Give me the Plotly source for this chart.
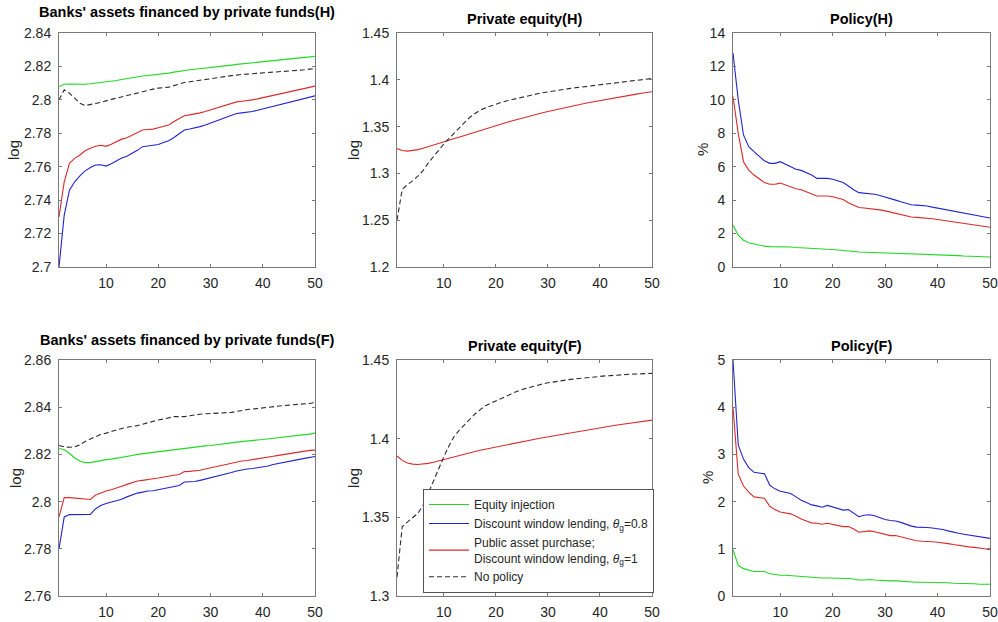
import plotly.graph_objects as go

# Horizon (quarters)
periods = list(range(1, 51))

# ---- Banks' assets financed by private funds, home (H) ----
bank_h_equity = [2.8080, 2.8093, 2.8095, 2.8094, 2.8092, 2.8093, 2.8096, 2.8100, 2.8103, 2.8105,
                 2.8110, 2.8116, 2.8122, 2.8128, 2.8133, 2.8138, 2.8143, 2.8146, 2.8149, 2.8152,
                 2.8156, 2.8160, 2.8166, 2.8172, 2.8177, 2.8180, 2.8183, 2.8186, 2.8189, 2.8192,
                 2.8196, 2.8200, 2.8204, 2.8208, 2.8212, 2.8215, 2.8218, 2.8220, 2.8223, 2.8226,
                 2.8229, 2.8232, 2.8236, 2.8240, 2.8243, 2.8246, 2.8250, 2.8253, 2.8257, 2.8261]
bank_h_dwl08 = [2.7000, 2.7310, 2.7460, 2.7510, 2.7545, 2.7575, 2.7595, 2.7610, 2.7612, 2.7604,
                2.7618, 2.7635, 2.7652, 2.7662, 2.7678, 2.7698, 2.7720, 2.7723, 2.7726, 2.7733,
                2.7745, 2.7755, 2.7775, 2.7800, 2.7820, 2.7826, 2.7832, 2.7840, 2.7850, 2.7860,
                2.7872, 2.7884, 2.7896, 2.7908, 2.7918, 2.7922, 2.7925, 2.7930, 2.7938, 2.7946,
                2.7954, 2.7962, 2.7970, 2.7978, 2.7986, 2.7994, 2.8000, 2.8008, 2.8016, 2.8024]
bank_h_dwl1 = [2.7300, 2.7510, 2.7620, 2.7650, 2.7670, 2.7695, 2.7710, 2.7723, 2.7728, 2.7722,
               2.7735, 2.7750, 2.7765, 2.7773, 2.7790, 2.7805, 2.7820, 2.7823, 2.7825, 2.7833,
               2.7843, 2.7850, 2.7870, 2.7890, 2.7905, 2.7910, 2.7915, 2.7922, 2.7930, 2.7940,
               2.7950, 2.7960, 2.7970, 2.7980, 2.7988, 2.7992, 2.7995, 2.8000, 2.8006, 2.8013,
               2.8020, 2.8027, 2.8034, 2.8040, 2.8047, 2.8053, 2.8060, 2.8066, 2.8073, 2.8082]
bank_h_none = [2.8000, 2.8060, 2.8040, 2.8010, 2.7980, 2.7966, 2.7970, 2.7978, 2.7985, 2.7995,
               2.8003, 2.8010, 2.8018, 2.8025, 2.8033, 2.8042, 2.8052, 2.8058, 2.8064, 2.8070,
               2.8073, 2.8076, 2.8085, 2.8095, 2.8104, 2.8108, 2.8112, 2.8116, 2.8120, 2.8125,
               2.8130, 2.8135, 2.8140, 2.8145, 2.8150, 2.8152, 2.8154, 2.8156, 2.8158, 2.8160,
               2.8162, 2.8164, 2.8166, 2.8168, 2.8170, 2.8173, 2.8176, 2.8180, 2.8184, 2.8188]

# ---- Private equity, home (H): all three policies coincide ----
equity_h_policy = [1.3265, 1.3245, 1.3238, 1.3243, 1.3254, 1.3268, 1.3284, 1.3301, 1.3318, 1.3335,
                   1.3352, 1.3370, 1.3388, 1.3406, 1.3424, 1.3442, 1.3459, 1.3476, 1.3493, 1.3510,
                   1.3527, 1.3543, 1.3559, 1.3575, 1.3591, 1.3606, 1.3620, 1.3634, 1.3648, 1.3661,
                   1.3674, 1.3687, 1.3699, 1.3711, 1.3723, 1.3735, 1.3746, 1.3757, 1.3768, 1.3779,
                   1.3789, 1.3799, 1.3809, 1.3819, 1.3829, 1.3838, 1.3847, 1.3856, 1.3865, 1.3873]
equity_h_none = [1.2500, 1.2830, 1.2880, 1.2920, 1.2970, 1.3030, 1.3110, 1.3180, 1.3250, 1.3315,
                 1.3375, 1.3430, 1.3495, 1.3550, 1.3600, 1.3640, 1.3675, 1.3700, 1.3722, 1.3742,
                 1.3758, 1.3774, 1.3788, 1.3802, 1.3815, 1.3828, 1.3840, 1.3851, 1.3862, 1.3872,
                 1.3881, 1.3890, 1.3898, 1.3906, 1.3913, 1.3920, 1.3927, 1.3934, 1.3940, 1.3946,
                 1.3952, 1.3958, 1.3964, 1.3970, 1.3976, 1.3982, 1.3990, 1.3998, 1.4006, 1.4014]

# ---- Policy size, home (H), in percent ----
policy_h_equity = [2.50, 1.90, 1.60, 1.45, 1.38, 1.30, 1.25, 1.22, 1.22, 1.24,
                   1.22, 1.20, 1.17, 1.15, 1.13, 1.10, 1.06, 1.06, 1.06, 1.05,
                   1.03, 1.01, 0.97, 0.93, 0.90, 0.89, 0.88, 0.87, 0.86, 0.85,
                   0.83, 0.81, 0.80, 0.78, 0.76, 0.75, 0.75, 0.74, 0.73, 0.72,
                   0.71, 0.70, 0.69, 0.68, 0.66, 0.65, 0.64, 0.63, 0.62, 0.60]
policy_h_dwl08 = [12.80, 10.00, 7.90, 7.20, 6.90, 6.60, 6.35, 6.20, 6.20, 6.30,
                  6.15, 6.00, 5.85, 5.78, 5.65, 5.50, 5.30, 5.30, 5.30, 5.25,
                  5.15, 5.05, 4.85, 4.62, 4.45, 4.42, 4.40, 4.35, 4.28, 4.20,
                  4.10, 4.00, 3.90, 3.82, 3.72, 3.70, 3.68, 3.65, 3.58, 3.52,
                  3.45, 3.38, 3.32, 3.26, 3.20, 3.15, 3.10, 3.04, 2.98, 2.93]
policy_h_dwl1 = [10.20, 8.00, 6.30, 5.80, 5.50, 5.25, 5.05, 4.95, 4.95, 5.02,
                 4.90, 4.80, 4.68, 4.62, 4.50, 4.38, 4.25, 4.25, 4.25, 4.20,
                 4.12, 4.04, 3.85, 3.68, 3.56, 3.53, 3.50, 3.46, 3.42, 3.36,
                 3.28, 3.20, 3.13, 3.06, 2.99, 2.97, 2.95, 2.93, 2.89, 2.84,
                 2.79, 2.74, 2.69, 2.65, 2.61, 2.56, 2.52, 2.47, 2.43, 2.38]

# ---- Banks' assets financed by private funds, foreign (F) ----
bank_f_equity = [2.8225, 2.8220, 2.8205, 2.8185, 2.8172, 2.8165, 2.8165, 2.8170, 2.8175, 2.8178,
                 2.8180, 2.8183, 2.8187, 2.8190, 2.8195, 2.8200, 2.8203, 2.8206, 2.8208, 2.8210,
                 2.8213, 2.8217, 2.8220, 2.8223, 2.8227, 2.8230, 2.8232, 2.8234, 2.8236, 2.8238,
                 2.8240, 2.8243, 2.8246, 2.8249, 2.8252, 2.8255, 2.8257, 2.8259, 2.8261, 2.8263,
                 2.8266, 2.8269, 2.8272, 2.8275, 2.8278, 2.8280, 2.8282, 2.8284, 2.8286, 2.8290]
bank_f_dwl08 = [2.7800, 2.7935, 2.7945, 2.7946, 2.7946, 2.7946, 2.7946, 2.7970, 2.7983, 2.7992,
                2.7997, 2.8002, 2.8010, 2.8020, 2.8028, 2.8036, 2.8040, 2.8045, 2.8046, 2.8050,
                2.8056, 2.8060, 2.8064, 2.8068, 2.8083, 2.8084, 2.8085, 2.8090, 2.8095, 2.8102,
                2.8107, 2.8112, 2.8117, 2.8123, 2.8130, 2.8135, 2.8138, 2.8140, 2.8143, 2.8147,
                2.8151, 2.8157, 2.8162, 2.8167, 2.8171, 2.8175, 2.8179, 2.8183, 2.8187, 2.8191]
bank_f_dwl1 = [2.7935, 2.8017, 2.8017, 2.8015, 2.8013, 2.8010, 2.8009, 2.8028, 2.8038, 2.8045,
               2.8050, 2.8056, 2.8065, 2.8073, 2.8080, 2.8087, 2.8090, 2.8095, 2.8097, 2.8100,
               2.8105, 2.8110, 2.8112, 2.8115, 2.8127, 2.8128, 2.8129, 2.8133, 2.8138, 2.8143,
               2.8148, 2.8153, 2.8158, 2.8163, 2.8168, 2.8172, 2.8174, 2.8177, 2.8180, 2.8183,
               2.8187, 2.8192, 2.8196, 2.8200, 2.8203, 2.8206, 2.8210, 2.8213, 2.8217, 2.8218]
bank_f_none = [2.8238, 2.8232, 2.8230, 2.8232, 2.8240, 2.8255, 2.8265, 2.8275, 2.8285, 2.8290,
               2.8297, 2.8305, 2.8310, 2.8315, 2.8318, 2.8322, 2.8328, 2.8335, 2.8340, 2.8346,
               2.8350, 2.8356, 2.8360, 2.8360, 2.8360, 2.8364, 2.8368, 2.8370, 2.8372, 2.8373,
               2.8374, 2.8375, 2.8376, 2.8378, 2.8382, 2.8387, 2.8390, 2.8392, 2.8395, 2.8398,
               2.8400, 2.8402, 2.8405, 2.8407, 2.8409, 2.8410, 2.8412, 2.8414, 2.8416, 2.8420]

# ---- Private equity, foreign (F): all three policies coincide ----
equity_f_policy = [1.3890, 1.3862, 1.3845, 1.3838, 1.3836, 1.3838, 1.3843, 1.3850, 1.3859, 1.3868,
                   1.3877, 1.3886, 1.3894, 1.3902, 1.3910, 1.3918, 1.3926, 1.3933, 1.3941, 1.3948,
                   1.3955, 1.3961, 1.3968, 1.3974, 1.3980, 1.3987, 1.3993, 1.4000, 1.4006, 1.4012,
                   1.4018, 1.4024, 1.4030, 1.4036, 1.4042, 1.4048, 1.4054, 1.4059, 1.4065, 1.4070,
                   1.4075, 1.4080, 1.4085, 1.4090, 1.4095, 1.4100, 1.4104, 1.4109, 1.4114, 1.4118]
equity_f_none = [1.3120, 1.3440, 1.3470, 1.3495, 1.3525, 1.3575, 1.3655, 1.3730, 1.3805, 1.3885,
                 1.3955, 1.4015, 1.4055, 1.4090, 1.4125, 1.4157, 1.4185, 1.4210, 1.4225, 1.4240,
                 1.4256, 1.4272, 1.4288, 1.4300, 1.4312, 1.4322, 1.4332, 1.4340, 1.4348, 1.4355,
                 1.4361, 1.4366, 1.4371, 1.4375, 1.4379, 1.4383, 1.4387, 1.4390, 1.4393, 1.4396,
                 1.4399, 1.4401, 1.4404, 1.4406, 1.4408, 1.4410, 1.4411, 1.4413, 1.4414, 1.4415]

# ---- Policy size, foreign (F), in percent ----
policy_f_equity = [0.98, 0.65, 0.58, 0.55, 0.52, 0.52, 0.52, 0.47, 0.45, 0.44,
                   0.44, 0.43, 0.42, 0.41, 0.40, 0.39, 0.38, 0.38, 0.38, 0.38,
                   0.37, 0.37, 0.37, 0.36, 0.34, 0.34, 0.35, 0.34, 0.33, 0.33,
                   0.32, 0.32, 0.31, 0.31, 0.30, 0.29, 0.29, 0.29, 0.29, 0.28,
                   0.28, 0.28, 0.27, 0.27, 0.26, 0.26, 0.26, 0.25, 0.25, 0.25]
policy_f_dwl08 = [5.00, 3.20, 2.90, 2.72, 2.62, 2.60, 2.59, 2.35, 2.27, 2.22,
                  2.20, 2.17, 2.10, 2.03, 1.98, 1.93, 1.91, 1.88, 1.92, 1.89,
                  1.86, 1.82, 1.83, 1.76, 1.68, 1.71, 1.72, 1.70, 1.66, 1.62,
                  1.60, 1.59, 1.56, 1.52, 1.48, 1.46, 1.46, 1.45, 1.44, 1.43,
                  1.41, 1.38, 1.35, 1.33, 1.31, 1.29, 1.28, 1.26, 1.24, 1.22]
policy_f_dwl1 = [4.00, 2.58, 2.33, 2.20, 2.10, 2.09, 2.07, 1.90, 1.83, 1.78,
                 1.76, 1.74, 1.69, 1.63, 1.59, 1.55, 1.54, 1.52, 1.54, 1.52,
                 1.50, 1.47, 1.47, 1.42, 1.35, 1.37, 1.38, 1.36, 1.33, 1.30,
                 1.28, 1.28, 1.25, 1.22, 1.19, 1.17, 1.16, 1.16, 1.15, 1.14,
                 1.13, 1.11, 1.09, 1.07, 1.05, 1.04, 1.03, 1.02, 1.00, 0.98]

# Series names, in legend order
series_names = [
    "Equity injection",
    "Discount window lending, <i>θ</i><sub>g</sub>=0.8",
    "Public asset purchase;<br>Discount window lending, <i>θ</i><sub>g</sub>=1",
    "No policy",
]

# Panel titles and y-axis labels
panel_titles = [
    "Banks' assets financed by private funds(H)", "Private equity(H)", "Policy(H)",
    "Banks' assets financed by private funds(F)", "Private equity(F)", "Policy(F)",
]
panel_units = ["log", "log", "%", "log", "log", "%"]

# Tick values / labels
x_ticks = [10, 20, 30, 40, 50]
y_ticks = [
    [2.70, 2.72, 2.74, 2.76, 2.78, 2.80, 2.82, 2.84],
    [1.20, 1.25, 1.30, 1.35, 1.40, 1.45],
    [0, 2, 4, 6, 8, 10, 12, 14],
    [2.76, 2.78, 2.80, 2.82, 2.84, 2.86],
    [1.30, 1.35, 1.40, 1.45],
    [0, 1, 2, 3, 4, 5],
]
y_ticktext = [
    ["2.7", "2.72", "2.74", "2.76", "2.78", "2.8", "2.82", "2.84"],
    ["1.2", "1.25", "1.3", "1.35", "1.4", "1.45"],
    ["0", "2", "4", "6", "8", "10", "12", "14"],
    ["2.76", "2.78", "2.8", "2.82", "2.84", "2.86"],
    ["1.3", "1.35", "1.4", "1.45"],
    ["0", "1", "2", "3", "4", "5"],
]

# Data per panel: (equity injection, DWL 0.8, PAP / DWL 1, no policy); None = not drawn.
# In the private-equity panels the three policy paths coincide, so only the top
# (red) line is drawn there.
panel_data = [
    (bank_h_equity, bank_h_dwl08, bank_h_dwl1, bank_h_none),
    (None, None, equity_h_policy, equity_h_none),
    (policy_h_equity, policy_h_dwl08, policy_h_dwl1, None),
    (bank_f_equity, bank_f_dwl08, bank_f_dwl1, bank_f_none),
    (None, None, equity_f_policy, equity_f_none),
    (policy_f_equity, policy_f_dwl08, policy_f_dwl1, None),
]

colors = ["#22d822", "#2424d0", "#dc2a2a", "#2b2b2b"]
FONT = "Liberation Sans, Arial, sans-serif"
TICK_COLOR = "#262626"
AXIS_COLOR = "#7a7a7a"

W, H = 998, 622
# Plot-area boxes in pixels: (left, right, top, bottom)
col_px = [(59, 315), (397, 652), (733, 990)]
row_px = [(33, 267), (360, 596)]
title_y = [[12, 19, 19], [340, 346, 346]]
unit_x = [[13, 353, 702], [15, 353, 707]]

fig = go.Figure()

for p in range(6):
    r, c = divmod(p, 3)
    ax = "" if p == 0 else str(p + 1)
    xa, ya = "x" + ax, "y" + ax
    for s in range(4):
        vals = panel_data[p][s]
        if vals is None:
            continue
        fig.add_trace(go.Scatter(
            x=periods, y=vals, mode="lines", name=series_names[s],
            line=dict(color=colors[s], width=1.1, dash="5px,3px" if s == 3 else "solid"),
            xaxis=xa, yaxis=ya, showlegend=(p == 0), legendgroup=str(s),
            hoverinfo="skip",
        ))

    x0, x1 = col_px[c]
    y0, y1 = row_px[r]
    axis_common = dict(
        showline=True, linecolor=AXIS_COLOR, linewidth=1, mirror="ticks",
        ticks="inside", ticklen=3, tickcolor=AXIS_COLOR, tickwidth=1,
        showgrid=False, zeroline=False,
        tickfont=dict(family=FONT, size=14, color=TICK_COLOR),
        fixedrange=True, automargin=False,
    )
    fig.layout["xaxis" + ax] = dict(
        axis_common, domain=[x0 / W, x1 / W], range=[1, 50],
        tickvals=x_ticks, ticktext=[str(v) for v in x_ticks],
        anchor=ya, ticklabelstandoff=3,
    )
    fig.layout["yaxis" + ax] = dict(
        axis_common, domain=[1 - y1 / H, 1 - y0 / H],
        range=[y_ticks[p][0], y_ticks[p][-1]],
        tickvals=y_ticks[p], ticktext=y_ticktext[p],
        anchor=xa, ticklabelstandoff=4,
    )

    fig.add_annotation(
        text="<b>" + panel_titles[p] + "</b>", xref="paper", yref="paper",
        x=(x0 + x1) / 2 / W, y=1 - title_y[r][c] / H,
        xanchor="center", yanchor="middle", showarrow=False,
        font=dict(family=FONT, size=14.5, color="#000000"),
    )
    fig.add_annotation(
        text=panel_units[p], xref="paper", yref="paper",
        x=unit_x[r][c] / W, y=1 - (y0 + y1) / 2 / H,
        xanchor="center", yanchor="middle", textangle=-90, showarrow=False,
        font=dict(family=FONT, size=15, color=TICK_COLOR),
    )

fig.update_layout(
    width=W, height=H,
    margin=dict(l=0, r=0, t=0, b=0, pad=0),
    paper_bgcolor="white", plot_bgcolor="white",
    legend=dict(
        x=423 / W, y=1 - 489 / H, xanchor="left", yanchor="top",
        bgcolor="white", bordercolor="#555555", borderwidth=1,
        font=dict(family=FONT, size=12, color=TICK_COLOR),
        itemwidth=40, tracegroupgap=0,
    ),
)

fig.write_html("out.html")
